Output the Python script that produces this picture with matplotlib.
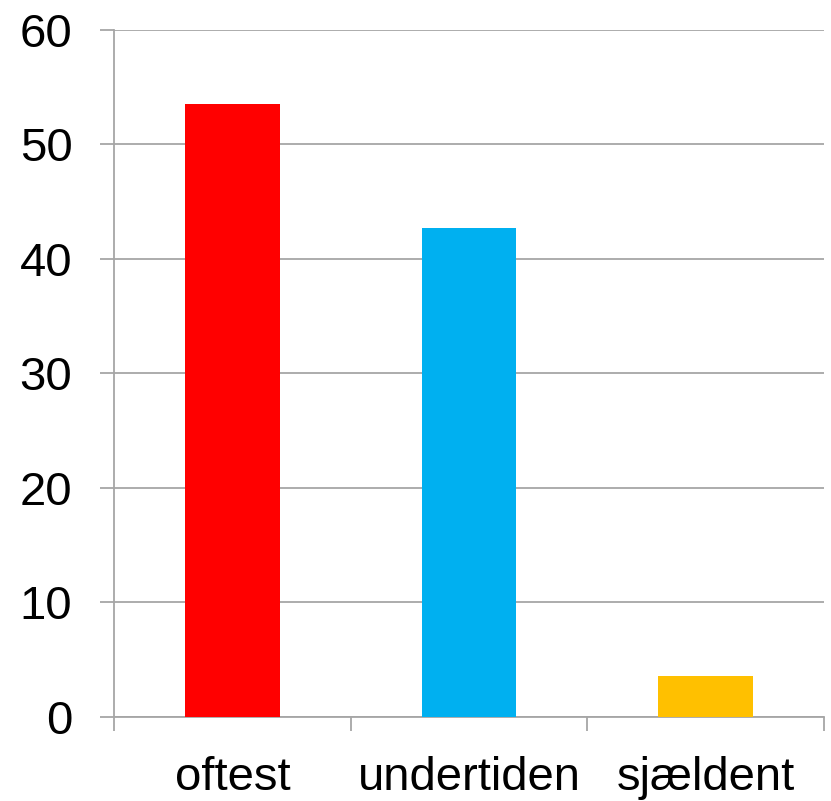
import matplotlib
matplotlib.use("Agg")
import matplotlib.pyplot as plt
from matplotlib.ticker import FixedLocator

categories = ["oftest", "undertiden", "sjældent"]
values = [53.5, 42.7, 3.6]
colors = ["#FF0000", "#00B0F0", "#FFC000"]

plt.rcParams['font.family'] = ['Liberation Sans', 'DejaVu Sans']

fig = plt.figure(figsize=(8.31, 8.01), dpi=100)
ax = fig.add_axes([0.1372, 0.1052, 0.8544, 0.8573])

x = list(range(len(categories)))
ax.bar(x, values, width=0.4, color=colors, zorder=3)

ax.set_xlim(-0.5, len(categories) - 0.5)
ax.set_ylim(0, 60)
ax.set_yticks(range(0, 61, 10))
ax.set_xticks(x)
ax.set_xticklabels(categories)
ax.xaxis.set_minor_locator(FixedLocator([i - 0.5 for i in range(len(categories) + 1)]))

grey = "#a6a6a6"
ax.grid(axis="y", color=grey, linewidth=1.3, zorder=0)
for s in ["top", "right"]:
    ax.spines[s].set_visible(False)
for s in ["left", "bottom"]:
    ax.spines[s].set_color(grey)
    ax.spines[s].set_linewidth(1.3)

ax.tick_params(axis="y", length=10, width=1.3, color=grey, labelsize=34, pad=20)
ax.tick_params(axis="x", which="major", length=0, labelsize=34, pad=28)
ax.tick_params(axis="x", which="minor", length=10, width=1.3, color=grey)

fig.savefig("out.png", dpi=100)
